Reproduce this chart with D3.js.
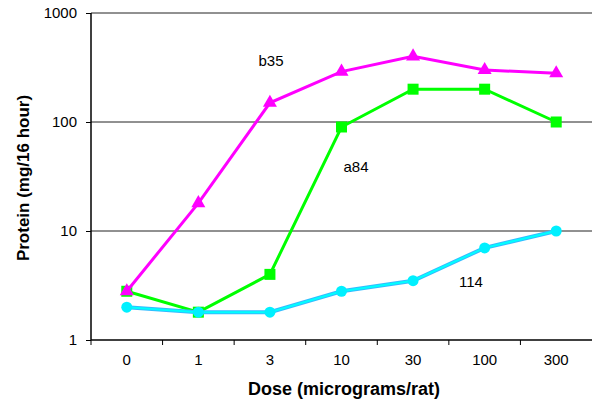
<!DOCTYPE html>
<html>
<head>
<meta charset="utf-8">
<script src="https://cdn.jsdelivr.net/npm/d3@7"></script>
<style>
  body { margin: 0; background: #fff; }
  svg { display: block; font-family: "Liberation Sans", Arial, sans-serif; }
</style>
</head>
<body>
<div id="chart"></div>
<script>
// data
const doses = ["0", "1", "3", "10", "30", "100", "300"];
const b35 = [2.8, 18, 150, 290, 400, 300, 280];
const a84 = [2.8, 1.8, 4, 90, 200, 200, 100];
const s114 = [2.0, 1.8, 1.8, 2.8, 3.5, 7, 10];
const yTicks = [1, 10, 100, 1000];

const width = 592, height = 403;
const margin = {top: 13, right: 0, bottom: 63, left: 91};

const svg = d3.select("#chart").append("svg")
  .attr("width", width)
  .attr("height", height);

const x = d3.scaleBand().domain(doses).range([margin.left, width - margin.right]);
const y = d3.scaleLog().domain([1, 1000]).range([height - margin.bottom, margin.top]);
const cx = d => x(d) + x.bandwidth() / 2;

// gridlines
svg.append("g")
  .selectAll("line")
  .data(yTicks.slice(1))
  .enter().append("line")
  .attr("x1", margin.left).attr("x2", width - margin.right)
  .attr("y1", d => y(d)).attr("y2", d => y(d))
  .attr("stroke", "#222")
  .attr("stroke-width", 1);

// y axis
const yAxis = svg.append("g")
  .attr("transform", `translate(${margin.left},0)`)
  .call(d3.axisLeft(y).tickValues(yTicks).tickFormat(d3.format("d")).tickSize(5).tickPadding(9));
yAxis.select(".domain").attr("stroke", "#000").attr("stroke-width", 1.5).attr("d", `M0,${y(1)}V${y(1000)}`);
yAxis.selectAll("text").style("font-size", "15px").attr("fill", "#000");

// x axis, ticks on category boundaries
const xg = svg.append("g").attr("transform", `translate(0,${y(1)})`);
xg.append("line")
  .attr("x1", margin.left).attr("x2", width - margin.right)
  .attr("stroke", "#000").attr("stroke-width", 1.5);
xg.selectAll("line.tk")
  .data(doses)
  .enter().append("line")
  .attr("class", "tk")
  .attr("x1", d => x(d)).attr("x2", d => x(d))
  .attr("y1", 0).attr("y2", 5)
  .attr("stroke", "#000");
xg.selectAll("text")
  .data(doses)
  .enter().append("text")
  .attr("x", d => cx(d))
  .attr("y", 25)
  .attr("text-anchor", "middle")
  .style("font-size", "15px")
  .text(d => d);

// axis titles
svg.append("text")
  .attr("x", 344).attr("y", 395)
  .attr("text-anchor", "middle")
  .style("font-size", "18px").style("font-weight", "bold")
  .text("Dose (micrograms/rat)");
svg.append("text")
  .attr("transform", `translate(29,178) rotate(-90)`)
  .attr("text-anchor", "middle")
  .style("font-size", "17px").style("font-weight", "bold")
  .text("Protein (mg/16 hour)");

const line = d3.line().x((v, i) => cx(doses[i])).y(v => y(v));

// a84 green squares
svg.append("path").datum(a84)
  .attr("d", line).attr("fill", "none")
  .attr("stroke", "#00ff00").attr("stroke-width", 3);
svg.selectAll("rect.a84")
  .data(a84).enter().append("rect")
  .attr("class", "a84")
  .attr("x", (v, i) => cx(doses[i]) - 5.5)
  .attr("y", v => y(v) - 5.5)
  .attr("width", 11).attr("height", 11)
  .attr("fill", "#00ff00");

// 114 cyan circles
svg.append("path").datum(s114)
  .attr("d", line).attr("fill", "none")
  .attr("stroke", "#33bbff").attr("stroke-width", 4);
svg.append("path").datum(s114)
  .attr("d", line).attr("fill", "none")
  .attr("stroke", "#00ffff").attr("stroke-width", 2);
svg.selectAll("circle.s114")
  .data(s114).enter().append("circle")
  .attr("class", "s114")
  .attr("cx", (v, i) => cx(doses[i]))
  .attr("cy", v => y(v))
  .attr("r", 5.5)
  .attr("fill", "#00f0ff");

// b35 magenta triangles
svg.append("path").datum(b35)
  .attr("d", line).attr("fill", "none")
  .attr("stroke", "#ff00ff").attr("stroke-width", 3);
const tri = d3.symbol().type(d3.symbolTriangle).size(85);
svg.selectAll("path.b35")
  .data(b35).enter().append("path")
  .attr("class", "b35")
  .attr("transform", (v, i) => `translate(${cx(doses[i])},${y(v)})`)
  .attr("d", tri)
  .attr("fill", "#ff00ff");

// series labels
const labels = [
  {t: "b35", x: 271, y: 66},
  {t: "a84", x: 356, y: 172},
  {t: "114", x: 471, y: 287}
];
svg.selectAll("text.lbl")
  .data(labels).enter().append("text")
  .attr("class", "lbl")
  .attr("x", d => d.x).attr("y", d => d.y)
  .attr("text-anchor", "middle")
  .style("font-size", "15px")
  .text(d => d.t);
</script>
</body>
</html>
